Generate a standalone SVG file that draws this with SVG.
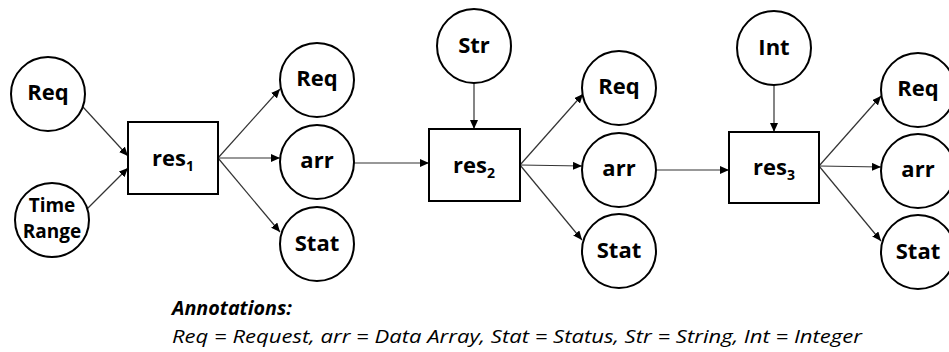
<svg xmlns="http://www.w3.org/2000/svg" width="949" height="352" viewBox="0 0 949 352">
<style>
.n{fill:#fff;stroke:#000;stroke-width:2}
.t{font-family:"Open Sans","Liberation Sans",sans-serif;font-weight:bold;font-size:22px;fill:#000;text-anchor:middle}
.tr{font-size:19px}
.sub{font-size:14px}
.c line{stroke:#333;stroke-width:1.2;marker-end:url(#ah)}
.a{font-family:"Open Sans","Liberation Sans",sans-serif;font-style:italic;font-size:19px;fill:#000}
</style>
<defs>
<marker id="ah" markerUnits="userSpaceOnUse" markerWidth="9" markerHeight="8" refX="9" refY="4" orient="auto">
<path d="M0,0 L9,4 L0,8 z" fill="#000"/>
</marker>
</defs>
<rect width="949" height="352" fill="#fff"/>
<g id="connectors" class="c">
<line x1="83" y1="107" x2="128" y2="156"/>
<line x1="85" y1="211" x2="128" y2="168"/>
<line x1="218" y1="158" x2="280" y2="89"/>
<line x1="218" y1="158" x2="280" y2="158"/>
<line x1="218" y1="158" x2="280" y2="232"/>
<line x1="354" y1="163" x2="429" y2="163"/>
<line x1="474" y1="83" x2="474" y2="129"/>
<line x1="520" y1="165" x2="583" y2="94"/>
<line x1="520" y1="165" x2="582" y2="166"/>
<line x1="520" y1="165" x2="582" y2="240"/>
<line x1="656" y1="170" x2="729" y2="170"/>
<line x1="774" y1="85" x2="774" y2="132"/>
<line x1="819" y1="166" x2="881" y2="96"/>
<line x1="819" y1="166" x2="881" y2="167"/>
<line x1="819" y1="166" x2="881" y2="241"/>
</g>
<g id="req1"><circle class="n" cx="48" cy="94" r="37"/><text class="t" x="48" y="100">Req</text></g>
<g id="timerange"><circle class="n" cx="52" cy="220" r="37"/><text class="t tr" x="52" y="212">Time</text><text class="t tr" x="52" y="238">Range</text></g>
<g id="res1"><rect class="n" x="128" y="122" width="90" height="72"/><text class="t" x="173" y="166">res<tspan class="sub" dy="5">1</tspan></text></g>
<g id="req2"><circle class="n" cx="317" cy="80" r="37"/><text class="t" x="317" y="86">Req</text></g>
<g id="arr2"><circle class="n" cx="317" cy="162" r="37"/><text class="t" x="317" y="168">arr</text></g>
<g id="stat2"><circle class="n" cx="317" cy="244" r="37"/><text class="t" x="317" y="251">Stat</text></g>
<g id="str"><circle class="n" cx="474" cy="46" r="37"/><text class="t" x="474" y="53">Str</text></g>
<g id="res2"><rect class="n" x="429" y="129" width="91" height="72"/><text class="t" x="474" y="173">res<tspan class="sub" dy="5">2</tspan></text></g>
<g id="req3"><circle class="n" cx="619" cy="88" r="37"/><text class="t" x="619" y="94">Req</text></g>
<g id="arr3"><circle class="n" cx="619" cy="170" r="37"/><text class="t" x="619" y="176">arr</text></g>
<g id="stat3"><circle class="n" cx="619" cy="251" r="37"/><text class="t" x="619" y="258">Stat</text></g>
<g id="int"><circle class="n" cx="774" cy="48" r="37"/><text class="t" x="774" y="55">Int</text></g>
<g id="res3"><rect class="n" x="729" y="132" width="90" height="71"/><text class="t" x="774" y="175">res<tspan class="sub" dy="5">3</tspan></text></g>
<g id="req4"><circle class="n" cx="918" cy="90" r="37"/><text class="t" x="918" y="96">Req</text></g>
<g id="arr4"><circle class="n" cx="918" cy="171" r="37"/><text class="t" x="918" y="177">arr</text></g>
<g id="stat4"><circle class="n" cx="918" cy="252" r="37"/><text class="t" x="918" y="259">Stat</text></g>
<g id="annotations">
<text class="a" x="172" y="315" font-weight="bold" textLength="120" lengthAdjust="spacingAndGlyphs">Annotations:</text>
<text class="a" x="172" y="343" textLength="690" lengthAdjust="spacingAndGlyphs">Req = Request, arr = Data Array, Stat = Status, Str = String, Int = Integer</text>
</g>
</svg>
